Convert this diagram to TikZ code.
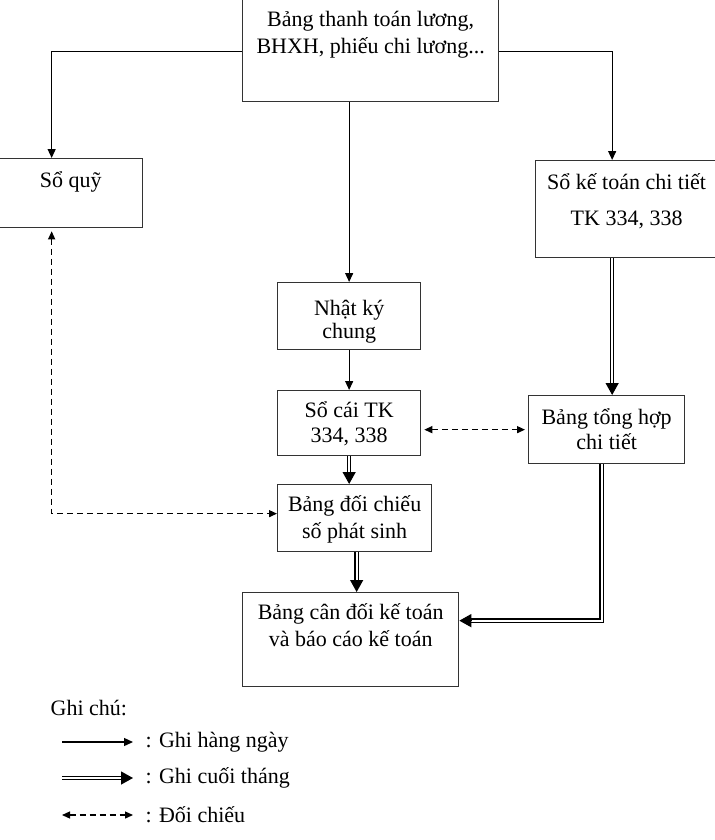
\documentclass[tikz,border=0pt]{standalone}
\usepackage{fontspec}
\setmainfont{Liberation Serif}
\usetikzlibrary{arrows.meta,calc}

% box body: width, height, top space, text
\newcommand{\boxbody}[4]{\parbox[t][#2][t]{#1}{\centering\vspace*{#3}\strut #4}}

\begin{document}
\begin{tikzpicture}
	[x=0.5pt,y=-0.5pt,line width=0.65pt,
		font=\fontsize{11}{13.5}\selectfont,
		box/.style={draw,rectangle,anchor=north west,inner sep=0pt,draw=black!80},
		single/.style={-{Triangle[length=4.5pt,width=4pt]}},
		dbl/.style={double,double distance=1.1pt,line width=0.55pt,shorten >=5pt},
		dbltip/.style={-{Triangle[length=6pt,width=6.5pt]}},
		cmp/.style={dashed,dash pattern=on 3pt off 2pt,{Triangle[length=4pt,width=3.5pt]}-{Triangle[length=4pt,width=3.5pt]},shorten >=1.5pt,shorten <=1.5pt},
		legtext/.style={anchor=west,inner sep=0pt}]

	\useasboundingbox (0,0) rectangle (714,840);

	% boxes
	\node[box] (top) at (242,-2) {\boxbody{128pt}{51.5pt}{4.5pt}{Bảng thanh toán lương,\\BHXH, phiếu chi lương...}};
	\node[box] (soquy) at (-2,158) {\boxbody{72pt}{34.5pt}{5pt}{Sổ quỹ}};
	\node[box] (sokt) at (535,160) {\boxbody{91pt}{48.5pt}{5pt}{Sổ kế toán chi tiết\\[4.5pt]TK 334, 338}};
	\node[box] (nhatky) at (277,282) {\boxbody{71.5pt}{33.5pt}{7pt}{Nhật ký\\[-2pt]chung}};
	\node[box] (socai) at (277,390) {\boxbody{71.5pt}{32.5pt}{4pt}{Sổ cái TK\\[-1pt]334, 338}};
	\node[box] (tonghop) at (528,395) {\boxbody{78pt}{34pt}{5pt}{Bảng tổng hợp\\[-1pt]chi tiết}};
	\node[box] (doichieu) at (277,484) {\boxbody{77pt}{33.5pt}{4pt}{Bảng đối chiếu\\số phát sinh}};
	\node[box] (candoi) at (242,592) {\boxbody{108pt}{47pt}{4pt}{Bảng cân đối kế toán\\và báo cáo kế toán}};

	% daily
	\draw[single] ([yshift=-0.75pt]top.west) -| ([xshift=-9.5pt]soquy.north);
	\draw[single] ([yshift=-0.75pt]top.east) -| ([xshift=-7.25pt]sokt.north);
	\draw[single] (nhatky.north |- top.south) -- (nhatky.north);
	\draw[single] (nhatky.south) -- (socai.north);

	% end of month
	\coordinate (d1) at (socai.south |- doichieu.north);
	\coordinate (d2) at ([xshift=1pt]doichieu.south |- candoi.north);
	\coordinate (d3) at ([xshift=-7.25pt]sokt.south |- tonghop.north);
	\coordinate (d4) at ([yshift=9.5pt]candoi.east);
	\draw[dbl] (socai.south) -- (d1);
	\draw[dbltip] ($(d1)+(0,-12)$) -- (d1);
	\draw[dbl] ([xshift=1pt]doichieu.south) -- (d2);
	\draw[dbltip] ($(d2)+(0,-12)$) -- (d2);
	\draw[dbl] ([xshift=-7.25pt]sokt.south) -- (d3);
	\draw[dbltip] ($(d3)+(0,-12)$) -- (d3);
	\draw[dbl] ([xshift=-2.5pt]tonghop.south) |- (d4);
	\draw[dbltip] ($(d4)+(12,0)$) -- (d4);

	% cross-check
	\draw[cmp] (socai.east |- tonghop.west) -- (tonghop.west);
	\draw[cmp,shorten >=0pt] ([xshift=-9.5pt]soquy.south) |- ([yshift=2.25pt]doichieu.west);

	% legend
	\node[legtext] (note) at (50,708) {Ghi chú:};
	\coordinate (l1a) at (62,742);
	\coordinate (l1b) at (133,742);
	\coordinate (l2a) at (62,778);
	\coordinate (l2b) at (133,778);
	\coordinate (l3a) at (62,815);
	\coordinate (l3b) at (133,815);
	\draw[single] (l1a) -- (l1b);
	\draw[dbl] (l2a) -- (l2b);
	\draw[dbltip] ($(l2b)+(-12,0)$) -- (l2b);
	\draw[cmp,shorten >=0pt,shorten <=0pt] (l3a) -- (l3b);
	\node[legtext] (leg1) at (145,742) {: Ghi hàng ngày};
	\node[legtext] (leg2) at (145,778) {: Ghi cuối tháng};
	\node[legtext] (leg3) at (145,815) {: Đối chiếu};
\end{tikzpicture}
\end{document}
